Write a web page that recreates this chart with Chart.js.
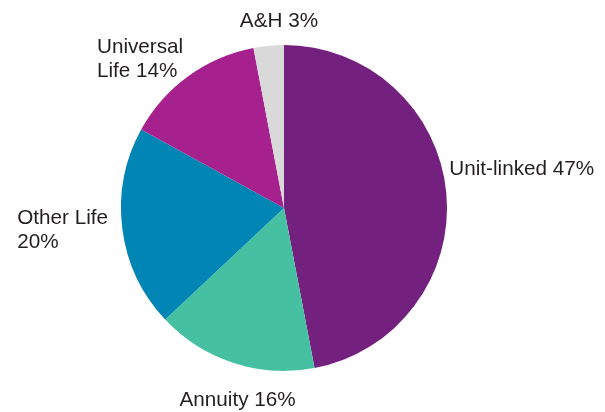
<!DOCTYPE html>
<html>
<head>
<meta charset="utf-8">
<script src="https://cdn.jsdelivr.net/npm/chart.js@4"></script>
<style>
  html, body { margin: 0; padding: 0; background: #ffffff; }
  #wrap { width: 605px; height: 412px; }
</style>
</head>
<body>
<div id="wrap"><canvas id="c" width="605" height="412"></canvas></div>
<script>
// ---- data ----
const categories = ["Unit-linked", "Annuity", "Other Life", "Universal Life", "A&H"];
const values = [47, 16, 20, 14, 3];
const labelLines = [
  ["Unit-linked 47%"],
  ["Annuity 16%"],
  ["Other Life", "20%"],
  ["Universal", "Life 14%"],
  ["A&H 3%"]
];
const colors = ["#73207F", "#45C1A1", "#0085B5", "#A6218E", "#D9D9D9"];

// label placement relative to the slice's outer mid-point
const labelPlacement = [
  { dx: 3,     dy: -18,   align: "left" },
  { dx: 4,     dy: 43,    align: "center" },
  { dx: -14.3, dy: -4.7,  align: "right" },
  { dx: -5,    dy: -23.3, align: "right" },
  { dx: 10.3,  dy: -19,   align: "center" }
];

const outsideLabels = {
  id: "outsideLabels",
  afterDatasetsDraw(chart) {
    const ctx = chart.ctx;
    const meta = chart.getDatasetMeta(0);
    ctx.save();
    ctx.font = "20.7px 'Liberation Sans', Arial, sans-serif";
    ctx.fillStyle = "#231F20";
    ctx.textBaseline = "alphabetic";
    ctx.textAlign = "left";
    const lineH = 24;
    meta.data.forEach((arc, i) => {
      const p = arc.getProps(["x", "y", "startAngle", "endAngle", "outerRadius"], true);
      const a = (p.startAngle + p.endAngle) / 2;
      const px = p.x + Math.cos(a) * p.outerRadius;
      const py = p.y + Math.sin(a) * p.outerRadius;
      const pl = labelPlacement[i];
      const lines = labelLines[i];
      const w = Math.max(...lines.map(l => ctx.measureText(l).width));
      let left;
      if (pl.align === "left") left = px + pl.dx;
      else if (pl.align === "right") left = px + pl.dx - w;
      else left = px + pl.dx - w / 2;
      lines.forEach((l, j) => {
        ctx.fillText(l, left, py + pl.dy + j * lineH);
      });
    });
    ctx.restore();
  }
};

new Chart(document.getElementById("c"), {
  type: "pie",
  data: {
    labels: categories,
    datasets: [{
      data: values,
      backgroundColor: colors,
      borderWidth: 0
    }]
  },
  options: {
    responsive: false,
    animation: false,
    layout: { padding: { left: 121, right: 158, top: 45, bottom: 41 } },
    plugins: {
      legend: { display: false },
      tooltip: { enabled: false }
    }
  },
  plugins: [outsideLabels]
});
</script>
</body>
</html>
